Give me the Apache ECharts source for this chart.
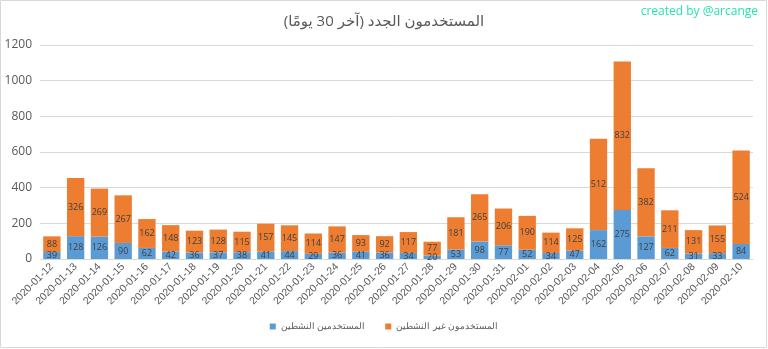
<!DOCTYPE html>
<html>
<head>
<meta charset="utf-8">
<script src="https://cdn.jsdelivr.net/npm/echarts@6/dist/echarts.min.js"></script>
<style>
  html, body { margin: 0; padding: 0; background: #fff; }
  #chart { width: 768px; height: 349px; }
</style>
</head>
<body>
<div id="chart"></div>
<script>
// Daily new users over the last 30 days
const dates = [
  '2020-01-12','2020-01-13','2020-01-14','2020-01-15','2020-01-16','2020-01-17',
  '2020-01-18','2020-01-19','2020-01-20','2020-01-21','2020-01-22','2020-01-23',
  '2020-01-24','2020-01-25','2020-01-26','2020-01-27','2020-01-28','2020-01-29',
  '2020-01-30','2020-01-31','2020-02-01','2020-02-02','2020-02-03','2020-02-04',
  '2020-02-05','2020-02-06','2020-02-07','2020-02-08','2020-02-09','2020-02-10'
];
const activeUsers = [39,128,126,90,62,42,36,37,38,41,44,29,36,41,36,34,20,53,98,77,52,34,47,162,275,127,62,31,33,84];
const inactiveUsers = [88,326,269,267,162,148,123,128,115,157,145,114,147,93,92,117,77,181,265,206,190,114,125,512,832,382,211,131,155,524];
const yTicks = [0, 200, 400, 600, 800, 1000, 1200];

const titleText = 'المستخدمون الجدد (آخر 30 يومًا)';
const activeName = 'المستخدمين النشطين';
const inactiveName = 'المستخدمون غير النشطين';
const creditText = 'created by @arcange';

const chart = echarts.init(document.getElementById('chart'), null, { renderer: 'canvas' });
const font = '"Open Sans", "Noto Sans", "DejaVu Sans", sans-serif';
const narrowFont = '"Liberation Sans", Arial, sans-serif';
const labelStyle = {
  show: true,
  position: 'inside',
  fontSize: 9,
  color: '#404040',
  fontFamily: font
};

chart.setOption({
  animation: false,
  backgroundColor: '#fff',
  textStyle: { fontFamily: font },
  title: {
    text: titleText,
    left: 'center',
    top: 9,
    textStyle: { fontSize: 15, fontWeight: 'normal', color: '#595959', fontFamily: font }
  },
  graphic: [
    {
      type: 'rect',
      shape: { x: 0.5, y: 0.5, width: 766, height: 347 },
      style: { fill: null, stroke: '#d9d9d9', lineWidth: 1 },
      silent: true
    },
    {
      type: 'text',
      right: 10,
      top: 6,
      style: { text: creditText, fill: '#24e3b0', fontSize: 12, fontFamily: font }
    }
  ],
  legend: {
    bottom: 13,
    left: 'center',
    itemWidth: 6,
    itemHeight: 6,
    itemGap: 20,
    icon: 'rect',
    textStyle: { fontSize: 9, color: '#595959', fontFamily: narrowFont },
    data: [activeName, inactiveName]
  },
  grid: {
    left: 40,
    right: 15,
    top: 45,
    bottom: 90
  },
  xAxis: {
    type: 'category',
    data: dates,
    axisLine: { lineStyle: { color: '#d9d9d9' } },
    axisTick: { show: false },
    axisLabel: {
      rotate: 45,
      interval: 0,
      fontSize: 10.5,
      color: '#595959',
      margin: 6,
      fontFamily: narrowFont
    }
  },
  yAxis: {
    type: 'value',
    min: yTicks[0],
    max: yTicks[yTicks.length - 1],
    interval: yTicks[1] - yTicks[0],
    axisLine: { show: false },
    axisTick: { show: false },
    splitLine: { lineStyle: { color: '#d9d9d9' } },
    axisLabel: {
      fontSize: 12,
      color: '#595959',
      margin: 8,
      fontFamily: font,
      formatter: v => String(v)
    }
  },
  series: [
    {
      name: activeName,
      type: 'bar',
      stack: 'users',
      data: activeUsers,
      barCategoryGap: '27%',
      itemStyle: { color: '#5b9bd5' },
      label: labelStyle
    },
    {
      name: inactiveName,
      type: 'bar',
      stack: 'users',
      data: inactiveUsers,
      barCategoryGap: '27%',
      itemStyle: { color: '#ed7d31' },
      label: labelStyle
    }
  ]
});
</script>
</body>
</html>
